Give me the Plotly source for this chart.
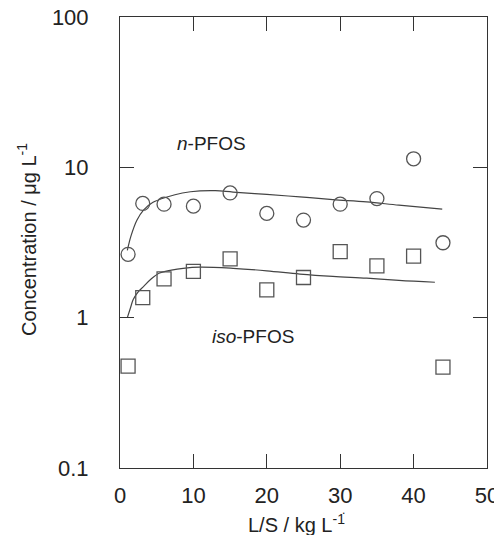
import plotly.graph_objects as go

# Measured data (L/S in kg L-1, concentration in ug L-1)
ls_points = [1.1, 3.1, 6.0, 10.0, 15.0, 20.0, 25.0, 30.0, 35.0, 40.0, 44.0]
n_pfos = [2.64, 5.75, 5.69, 5.52, 6.76, 4.94, 4.46, 5.69, 6.2, 11.4, 3.15]
iso_pfos = [0.476, 1.36, 1.81, 2.03, 2.46, 1.53, 1.85, 2.75, 2.21, 2.57, 0.469]

# Model curves
n_fit_x = [1.0, 1.5, 2.3, 3.2, 4.5, 6.4, 8.5, 10.9, 13.0, 15.4, 20.0, 24.5, 29.0, 33.6, 38.0, 43.9]
n_fit_y = [2.8, 3.5, 4.45, 5.2, 5.85, 6.35, 6.75, 6.97, 7.0, 6.85, 6.6, 6.36, 6.1, 5.89, 5.6, 5.27]
iso_fit_x = [1.0, 1.4, 1.8, 2.4, 3.2, 4.2, 5.4, 7.0, 8.6, 10.9, 15.4, 20.0, 24.5, 29.0, 33.6, 38.0, 42.9]
iso_fit_y = [1.0, 1.15, 1.32, 1.47, 1.61, 1.8, 1.98, 2.07, 2.13, 2.17, 2.13, 2.05, 1.95, 1.88, 1.83, 1.77, 1.72]

x_ticks = [0, 10, 20, 30, 40, 50]
y_ticks = [0.1, 1, 10, 100]
y_tick_text = ["0.1", "1", "10", "100"]

line_col = "#444444"
mark_col = "#555555"
axis_col = "#333333"
text_col = "#222222"
font_fam = "Liberation Sans, Arial, sans-serif"

fig = go.Figure()
fig.add_trace(go.Scatter(x=n_fit_x, y=n_fit_y, mode="lines",
                         line=dict(color=line_col, width=1.2, shape="spline"),
                         showlegend=False, hoverinfo="skip"))
fig.add_trace(go.Scatter(x=iso_fit_x, y=iso_fit_y, mode="lines",
                         line=dict(color=line_col, width=1.2, shape="spline"),
                         showlegend=False, hoverinfo="skip"))
fig.add_trace(go.Scatter(x=ls_points, y=n_pfos, mode="markers",
                         marker=dict(symbol="circle-open", size=14, color=mark_col,
                                     line=dict(color=mark_col, width=1.3)),
                         showlegend=False))
fig.add_trace(go.Scatter(x=ls_points, y=iso_pfos, mode="markers",
                         marker=dict(symbol="square-open", size=14, color=mark_col,
                                     line=dict(color=mark_col, width=1.3)),
                         showlegend=False))

fig.update_layout(
    width=494, height=535,
    margin=dict(l=120, r=7, t=17, b=67),
    paper_bgcolor="white", plot_bgcolor="white",
    font=dict(family=font_fam, color=text_col),
    xaxis=dict(range=[0, 50], tickmode="array", tickvals=x_ticks, ticks="inside",
               ticklen=14, tickcolor=axis_col, tickwidth=1, showline=True,
               linecolor=axis_col, linewidth=1, mirror="ticks", showgrid=False,
               zeroline=False,
               tickfont=dict(size=22, family=font_fam, color=text_col),
               ticklabelstandoff=8, ticklabeloverflow="allow", automargin=False),
    yaxis=dict(type="log", range=[-1, 2], tickmode="array", tickvals=y_ticks,
               ticktext=y_tick_text, ticks="inside", ticklen=14, tickcolor=axis_col,
               tickwidth=1, showline=True, linecolor=axis_col, linewidth=1,
               mirror="ticks", showgrid=False, zeroline=False,
               tickfont=dict(size=22, family=font_fam, color=text_col),
               ticklabelstandoff=26, ticklabeloverflow="allow", automargin=False),
    annotations=[
        dict(text="<i>n</i>-PFOS", x=0.248, y=0.72, xref="paper", yref="paper",
             showarrow=False, font=dict(size=19, family=font_fam, color=text_col),
             xanchor="center", yanchor="middle"),
        dict(text="<i>iso</i>-PFOS", x=0.362, y=0.291, xref="paper", yref="paper",
             showarrow=False, font=dict(size=19, family=font_fam, color=text_col),
             xanchor="center", yanchor="middle"),
        dict(text="L/S / kg L<sup>-1</sup>", x=0.481, y=-0.122, xref="paper", yref="paper",
             showarrow=False, font=dict(size=20, family=font_fam, color=text_col),
             xanchor="center", yanchor="middle"),
        dict(text="Concentration / \u03bcg L<sup>-1</sup>", x=-0.253, y=0.506,
             xref="paper", yref="paper", textangle=-90, showarrow=False,
             font=dict(size=20, family=font_fam, color=text_col),
             xanchor="center", yanchor="middle"),
        dict(text=".", x=0.608, y=-0.094, xref="paper", yref="paper",
             showarrow=False, font=dict(size=12, family=font_fam, color=text_col),
             xanchor="center", yanchor="middle"),
    ],
)

fig.write_html("out.html")
